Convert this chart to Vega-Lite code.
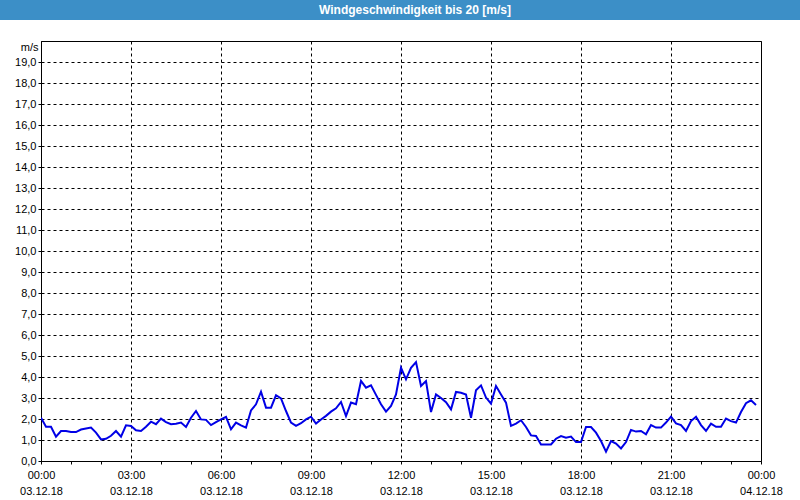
{
  "$schema": "https://vega.github.io/schema/vega-lite/v6.json",
  "padding": 0,
  "background": "#ffffff",
  "spacing": 20,
  "config": {"font": "Liberation Sans"},
  "vconcat": [
    {
      "width": 760,
      "height": 20,
      "view": {"fill": "#3c8fc7", "stroke": null},
      "data": {"values": [{"title": "Windgeschwindigkeit bis 20 [m/s]"}]},
      "mark": {"type": "text", "color": "#ffffff", "fontSize": 12, "fontWeight": "bold", "baseline": "middle", "align": "center", "dx": -6},
      "encoding": {
        "text": {"field": "title"},
        "y": {
          "field": "title",
          "type": "nominal",
          "axis": {"title": null, "labels": false, "ticks": false, "grid": false, "domain": true, "translate": 0, "domainColor": "#3c8fc7", "domainWidth": 82, "domainCap": "butt", "minExtent": 0}
        }
      }
    },
    {
      "width": 720,
      "height": 420,
      "view": {"fill": "#ffffff", "stroke": "#000000", "strokeWidth": 1},
      "data": {"values": [
        {"minute": 0, "v": 2.06}, {"minute": 10, "v": 1.63}, {"minute": 20, "v": 1.63}, {"minute": 30, "v": 1.16}, {"minute": 40, "v": 1.43}, {"minute": 50, "v": 1.43},
        {"minute": 60, "v": 1.38}, {"minute": 70, "v": 1.38}, {"minute": 80, "v": 1.5}, {"minute": 90, "v": 1.55}, {"minute": 100, "v": 1.59}, {"minute": 110, "v": 1.35},
        {"minute": 120, "v": 1.03}, {"minute": 130, "v": 1.06}, {"minute": 140, "v": 1.2}, {"minute": 150, "v": 1.43}, {"minute": 160, "v": 1.16}, {"minute": 170, "v": 1.7},
        {"minute": 180, "v": 1.67}, {"minute": 190, "v": 1.46}, {"minute": 200, "v": 1.43}, {"minute": 210, "v": 1.63}, {"minute": 220, "v": 1.87}, {"minute": 230, "v": 1.75},
        {"minute": 240, "v": 2.02}, {"minute": 250, "v": 1.85}, {"minute": 260, "v": 1.75}, {"minute": 270, "v": 1.77}, {"minute": 280, "v": 1.83}, {"minute": 290, "v": 1.62},
        {"minute": 300, "v": 2.06}, {"minute": 310, "v": 2.38}, {"minute": 320, "v": 1.98}, {"minute": 330, "v": 1.96}, {"minute": 340, "v": 1.71}, {"minute": 350, "v": 1.85},
        {"minute": 360, "v": 1.98}, {"minute": 370, "v": 2.1}, {"minute": 380, "v": 1.51}, {"minute": 390, "v": 1.83}, {"minute": 400, "v": 1.7}, {"minute": 410, "v": 1.59},
        {"minute": 420, "v": 2.41}, {"minute": 430, "v": 2.7}, {"minute": 440, "v": 3.3}, {"minute": 450, "v": 2.54}, {"minute": 460, "v": 2.54}, {"minute": 470, "v": 3.13},
        {"minute": 480, "v": 2.98}, {"minute": 490, "v": 2.38}, {"minute": 500, "v": 1.83}, {"minute": 510, "v": 1.67}, {"minute": 520, "v": 1.8}, {"minute": 530, "v": 1.98},
        {"minute": 540, "v": 2.11}, {"minute": 550, "v": 1.78}, {"minute": 560, "v": 1.98}, {"minute": 570, "v": 2.15}, {"minute": 580, "v": 2.35}, {"minute": 590, "v": 2.51},
        {"minute": 600, "v": 2.81}, {"minute": 610, "v": 2.14}, {"minute": 620, "v": 2.78}, {"minute": 630, "v": 2.7}, {"minute": 640, "v": 3.81}, {"minute": 650, "v": 3.49},
        {"minute": 660, "v": 3.6}, {"minute": 670, "v": 3.15}, {"minute": 680, "v": 2.7}, {"minute": 690, "v": 2.35}, {"minute": 700, "v": 2.62}, {"minute": 710, "v": 3.17},
        {"minute": 720, "v": 4.44}, {"minute": 730, "v": 3.89}, {"minute": 740, "v": 4.44}, {"minute": 750, "v": 4.71}, {"minute": 760, "v": 3.57}, {"minute": 770, "v": 3.81},
        {"minute": 780, "v": 2.33}, {"minute": 790, "v": 3.17}, {"minute": 800, "v": 3.0}, {"minute": 810, "v": 2.8}, {"minute": 820, "v": 2.46}, {"minute": 830, "v": 3.29},
        {"minute": 840, "v": 3.25}, {"minute": 850, "v": 3.17}, {"minute": 860, "v": 2.06}, {"minute": 870, "v": 3.37}, {"minute": 880, "v": 3.6}, {"minute": 890, "v": 3.02},
        {"minute": 900, "v": 2.73}, {"minute": 910, "v": 3.57}, {"minute": 920, "v": 3.17}, {"minute": 930, "v": 2.78}, {"minute": 940, "v": 1.67}, {"minute": 950, "v": 1.78},
        {"minute": 960, "v": 1.94}, {"minute": 970, "v": 1.62}, {"minute": 980, "v": 1.22}, {"minute": 990, "v": 1.19}, {"minute": 1000, "v": 0.79}, {"minute": 1010, "v": 0.79},
        {"minute": 1020, "v": 0.79}, {"minute": 1030, "v": 1.06}, {"minute": 1040, "v": 1.19}, {"minute": 1050, "v": 1.11}, {"minute": 1060, "v": 1.16}, {"minute": 1070, "v": 0.9},
        {"minute": 1080, "v": 0.9}, {"minute": 1090, "v": 1.62}, {"minute": 1100, "v": 1.62}, {"minute": 1110, "v": 1.35}, {"minute": 1120, "v": 0.95}, {"minute": 1130, "v": 0.44},
        {"minute": 1140, "v": 0.95}, {"minute": 1150, "v": 0.83}, {"minute": 1160, "v": 0.6}, {"minute": 1170, "v": 0.9}, {"minute": 1180, "v": 1.48}, {"minute": 1190, "v": 1.4},
        {"minute": 1200, "v": 1.43}, {"minute": 1210, "v": 1.27}, {"minute": 1220, "v": 1.71}, {"minute": 1230, "v": 1.59}, {"minute": 1240, "v": 1.59}, {"minute": 1250, "v": 1.83},
        {"minute": 1260, "v": 2.11}, {"minute": 1270, "v": 1.79}, {"minute": 1280, "v": 1.71}, {"minute": 1290, "v": 1.43}, {"minute": 1300, "v": 1.9}, {"minute": 1310, "v": 2.11},
        {"minute": 1320, "v": 1.71}, {"minute": 1330, "v": 1.43}, {"minute": 1340, "v": 1.78}, {"minute": 1350, "v": 1.63}, {"minute": 1360, "v": 1.63}, {"minute": 1370, "v": 2.02},
        {"minute": 1380, "v": 1.9}, {"minute": 1390, "v": 1.83}, {"minute": 1400, "v": 2.33}, {"minute": 1410, "v": 2.75}, {"minute": 1420, "v": 2.89}, {"minute": 1430, "v": 2.67}
      ]},
      "mark": {"type": "line", "color": "#0000e6", "strokeWidth": 2, "clip": true},
      "encoding": {
        "x": {
          "field": "minute",
          "type": "quantitative",
          "scale": {"domain": [0, 1440], "nice": false, "zero": false},
          "axis": {
            "title": null,
            "values": [0, 60, 120, 180, 240, 300, 360, 420, 480, 540, 600, 660, 720, 780, 840, 900, 960, 1020, 1080, 1140, 1200, 1260, 1320, 1380, 1440],
            "labelExpr": "datum.value % 180 == 0 ? [format(floor(datum.value / 60) % 24, '02d') + ':00', datum.value == 1440 ? '04.12.18' : '03.12.18'] : ''",
            "labelOverlap": false,
            "labelFlush": false,
            "labelFontSize": 11,
            "labelColor": "#000000",
            "labelLineHeight": 16,
            "labelPadding": 5,
            "tickSize": 3,
            "tickColor": "#000000",
            "domainColor": "#000000",
            "gridColor": "#000000",
            "gridDash": [3, 3],
            "gridOpacity": {"condition": {"test": "datum.value % 180 != 0", "value": 0}, "value": 1}
          }
        },
        "y": {
          "field": "v",
          "type": "quantitative",
          "scale": {"domain": [0, 20], "nice": false},
          "axis": {
            "title": "m/s",
            "titleAngle": 0,
            "titleAlign": "right",
            "titleBaseline": "middle",
            "titleX": -3,
            "titleY": 6,
            "titleFontSize": 11,
            "titleFontWeight": "normal",
            "titleColor": "#000000",
            "values": [0, 1, 2, 3, 4, 5, 6, 7, 8, 9, 10, 11, 12, 13, 14, 15, 16, 17, 18, 19],
            "labelExpr": "replace(format(datum.value, '.1f'), '.', ',')",
            "labelFontSize": 11,
            "labelColor": "#000000",
            "labelPadding": 2,
            "tickSize": 3,
            "tickColor": "#000000",
            "domainColor": "#000000",
            "minExtent": 40,
            "gridColor": "#000000",
            "gridDash": [3, 3]
          }
        }
      }
    }
  ]
}
